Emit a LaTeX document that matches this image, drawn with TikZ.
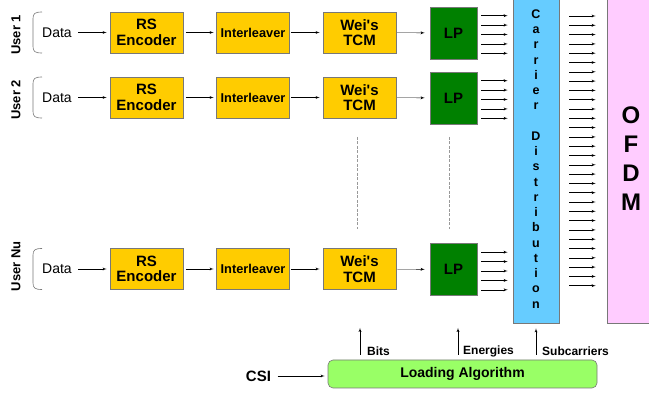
\documentclass[tikz,border=0pt]{standalone}
\usepackage{fontspec}
\setmainfont{Liberation Sans}
\usetikzlibrary{arrows,positioning}
\definecolor{codeyellow}{RGB}{255,204,0}
\definecolor{lpgreen}{RGB}{0,128,0}
\definecolor{carrierblue}{RGB}{102,204,255}
\definecolor{ofdmpink}{RGB}{255,204,255}
\definecolor{loadgreen}{RGB}{153,255,102}
\definecolor{edgegray}{RGB}{120,120,120}
\tikzstyle{codebox} = [rectangle, draw=edgegray, fill=codeyellow, line width=0.6pt,
    minimum width=73pt, minimum height=41pt, inner sep=0pt, align=center,
    font=\fontsize{15}{15.5}\selectfont\bfseries]
\tikzstyle{lpbox} = [rectangle, draw=edgegray, fill=lpgreen, line width=0.6pt,
    minimum width=47pt, minimum height=52pt, font=\fontsize{15}{15}\selectfont\bfseries]
\tikzstyle{tallbox} = [rectangle, draw=edgegray, line width=0.6pt, align=center,
    minimum height=328pt, inner sep=0pt]
\tikzstyle{line} = [draw, -latex', line width=0.4pt]
\tikzstyle{smalllabel} = [anchor=west, inner sep=2pt, font=\fontsize{12}{12}\selectfont\bfseries]

\begin{document}
\begin{tikzpicture}[x=1pt, y=-1pt]
        \useasboundingbox (0,0) rectangle (649,398);

        % user rows
        \foreach \row/\yy/\user in {1/32.5/User 1, 2/97.5/User 2, 3/269/User Nu} {
            \node [rotate=90, anchor=west, inner sep=0pt, font=\fontsize{13}{13}\selectfont\bfseries]
                (user\row) at (16,{\yy+22.5}) {\user};
            \draw [edgegray, line width=0.6pt] (42,{\yy-20.5}) .. controls (35,{\yy-20.5}) and (33,{\yy-19}) .. (33,{\yy-14})
                -- (33,{\yy+14}) .. controls (33,{\yy+19}) and (35,{\yy+20.5}) .. (42,{\yy+20.5});
            \node [font=\fontsize{14}{14}\selectfont] (data\row) at (57,\yy) {Data};
            \node [codebox] (rs\row) at (146.5,\yy) {RS\\Encoder};
            \node [codebox, font=\fontsize{12.8}{13}\selectfont\bfseries] (inter\row) at (253,\yy) {Interleaver};
            \node [codebox] (tcm\row) at (359.5,\yy) {Wei\textquotesingle s\\TCM};
            \node [lpbox] (lp\row) at (453.5,{\yy+0.5}) {LP};

            \path [line, shorten <=3pt, shorten >=3pt] (data\row) -- (rs\row);
            \path [line, shorten <=2.5pt, shorten >=2.5pt] (rs\row) -- (inter\row);
            \path [line, shorten <=1pt, shorten >=3pt] (inter\row) -- (tcm\row);
            \path [line, shorten <=1pt, shorten >=5pt] (tcm\row) -- (lp\row);
        }

        \node [tallbox, fill=carrierblue, minimum width=46pt, font=\fontsize{12.5}{15.25}\selectfont\bfseries]
            (carrier) at (536,159) {C\\a\\r\\r\\i\\e\\r\\ \\D\\i\\s\\t\\r\\i\\b\\u\\t\\i\\o\\n};
        \node [tallbox, fill=ofdmpink, minimum width=48pt, font=\fontsize{24}{29}\selectfont\bfseries]
            (ofdm) at (631,159) {O\\F\\D\\M};

        % LP outputs to the carriers
        \foreach \row/\yy in {1/33, 2/98, 3/269.5} {
            \foreach \k in {-2,...,2} {
                \pgfmathsetmacro\ly{\yy+1.5+9.4*\k}
                \coordinate (lpo\row\k) at (0,\ly);
                \path [line, shorten <=4pt, shorten >=5pt] (lp\row.east |- lpo\row\k) -- (carrier.west |- lpo\row\k);
            }
        }

        % subcarriers to OFDM
        \foreach \k in {0,...,29} {
            \pgfmathsetmacro\sy{16+9.3*\k}
            \coordinate (sc\k) at (0,\sy);
            \path [line, shorten <=10pt, shorten >=11pt] (carrier.east |- sc\k) -- (ofdm.west |- sc\k);
        }

        % dashed gaps between rows
        \draw [gray!80, dash pattern=on 3pt off 1.5pt, line width=0.35pt] (357,137) -- (357,229);
        \draw [gray!80, dash pattern=on 3pt off 1.5pt, line width=0.35pt] (449,137) -- (449,229);

        \node [rectangle, rounded corners=5pt, draw=edgegray, fill=loadgreen, line width=0.6pt,
            minimum width=269pt, minimum height=28pt, font=\fontsize{14}{14}\selectfont\bfseries]
            (loading) at (462.5,374) {Loading Algorithm};
        \node [font=\fontsize{15}{15}\selectfont\bfseries] (csi) at (258.5,376) {CSI};
        \path [line, shorten <=3pt, shorten >=3pt] (csi) -- (csi -| loading.west);

        \coordinate (bits) at (360,328);
        \coordinate (energies) at (458,328);
        \path [line, shorten <=5pt] (loading.north -| bits) -- (bits);
        \path [line, shorten <=5pt] (loading.north -| energies) -- (energies);
        \path [line, shorten <=5pt, shorten >=5pt] (loading.north -| carrier.south) -- (carrier.south);
        \node [smalllabel] (bitslabel) at (365,351.5) {Bits};
        \node [smalllabel] (energylabel) at (461,351.5) {Energies};
        \node [smalllabel] (sublabel) at (540,351.5) {Subcarriers};
    \end{tikzpicture}
\end{document}
